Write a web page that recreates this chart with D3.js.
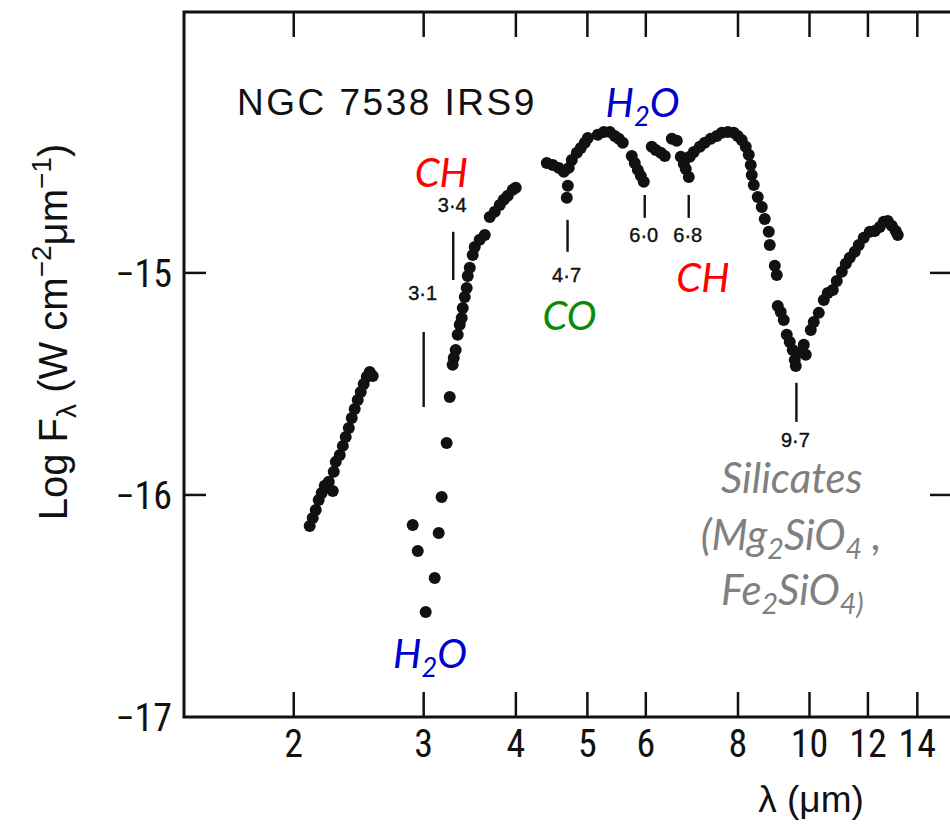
<!DOCTYPE html>
<html>
<head>
<meta charset="utf-8">
<script src="https://cdn.jsdelivr.net/npm/d3@7"></script>
<style>
  body { margin: 0; background: #fff; }
</style>
</head>
<body>
<svg id="chart" width="950" height="827"></svg>
<script>
// NGC 7538 IRS9 infrared spectrum: log F_lambda against wavelength (log axis),
// with the ice / dust absorption features marked.

// wavelength (µm) and log flux (W cm^-2 µm^-1)
const lambdaUm = [
  // 2.1 - 2.6 µm
  2.102, 2.122, 2.142, 2.162, 2.182, 2.203, 2.231, 2.259, 2.266, 2.280, 2.309,
  2.331, 2.352, 2.375, 2.397, 2.419, 2.442, 2.465, 2.488, 2.512, 2.535, 2.559,
  // 2.9 - 4 µm
  2.899, 2.945, 3.019, 3.105, 3.144, 3.173, 3.223, 3.254, 3.284, 3.295, 3.315,
  3.336, 3.357, 3.378, 3.389, 3.410, 3.431, 3.442, 3.464, 3.496, 3.518, 3.573,
  3.630, 3.687, 3.745, 3.804, 3.851, 3.900, 3.961, 3.998,
  // 4.4 - 13 µm
  4.405, 4.489, 4.573, 4.645, 4.718, 4.704, 4.689, 4.763, 4.838, 4.898, 4.960,
  5.007, 5.165, 5.263, 5.363, 5.447, 5.515, 5.584, 5.743, 5.797, 5.852, 5.907,
  5.962, 6.113, 6.190, 6.287, 6.366, 6.507, 6.609, 6.692, 6.755, 6.797, 6.861,
  6.883, 6.969, 7.101, 7.212, 7.349, 7.487, 7.605, 7.749, 7.895, 7.994, 8.095,
  8.196, 8.273, 8.325, 8.351, 8.404, 8.509, 8.616, 8.697, 8.806, 8.834, 8.973,
  9.029, 9.057, 9.142, 9.228, 9.315, 9.403, 9.491, 9.551, 9.581, 9.731, 9.823,
  9.884, 10.040, 10.134, 10.294, 10.456, 10.587, 10.753, 10.888, 11.060, 11.199,
  11.339, 11.517, 11.662, 11.845, 12.069, 12.259, 12.452, 12.608, 12.767, 12.927,
  13.089, 13.171
];

const logFlux = [
  -16.140, -16.104, -16.068, -16.023, -15.991, -15.959, -15.941, -15.982, -15.896,
  -15.851, -15.820, -15.779, -15.739, -15.698, -15.653, -15.613, -15.572, -15.536,
  -15.500, -15.468, -15.446, -15.464,
  -16.135, -16.252, -16.527, -16.374, -16.171, -16.009, -15.766, -15.559, -15.414,
  -15.383, -15.347, -15.279, -15.234, -15.203, -15.158, -15.108, -15.068, -15.014,
  -14.977, -14.919, -14.883, -14.851, -14.829, -14.748, -14.725, -14.694, -14.671,
  -14.653, -14.626, -14.617,
  -14.505, -14.514, -14.527, -14.545, -14.527, -14.608, -14.662, -14.491, -14.459,
  -14.437, -14.414, -14.392, -14.378, -14.365, -14.365, -14.383, -14.396, -14.414,
  -14.473, -14.505, -14.536, -14.563, -14.590, -14.432, -14.446, -14.459, -14.473,
  -14.396, -14.405, -14.477, -14.509, -14.532, -14.568, -14.477, -14.455, -14.432,
  -14.414, -14.396, -14.383, -14.369, -14.365, -14.369, -14.383, -14.401, -14.432,
  -14.468, -14.514, -14.559, -14.604, -14.658, -14.703, -14.757, -14.815, -14.874,
  -14.968, -15.009, -15.149, -15.176, -15.212, -15.279, -15.311, -15.347, -15.392,
  -15.419, -15.356, -15.324, -15.369, -15.257, -15.221, -15.180, -15.122, -15.090,
  -15.077, -15.036, -14.995, -14.959, -14.932, -14.905, -14.874, -14.842, -14.815,
  -14.811, -14.793, -14.770, -14.766, -14.788, -14.811, -14.829
];

const xTicks = [2, 3, 4, 5, 6, 8, 10, 12, 14];
const yTicks = [-17, -16, -15];
const xExtent = [1.42, 15.6];
const yExtent = [-17, -13.825];

// absorption features: wavelength drawn, label printed, marker top/bottom, label baseline
const featureLambda = [3.0, 3.29, 4.7, 5.98, 6.86, 9.6];
const featureText = ["3·1", "3·4", "4·7", "6·0", "6·8", "9·7"];
const featureTop = [-15.266, -14.815, -14.761, -14.649, -14.649, -15.495];
const featureBottom = [-15.604, -15.032, -14.905, -14.752, -14.752, -15.671];
const featureLabelF = [-15.122, -14.725, -15.041, -14.860, -14.860, -15.784];

// coloured species labels: [text, subscript?] pieces
const speciesParts = [
  [["CH", 0]],
  [["H", 0], ["2", 1], ["O", 0]],
  [["CO", 0]],
  [["CH", 0]],
  [["H", 0], ["2", 1], ["O", 0]],
  [["Silicates", 0]],
  [["(Mg", 0], ["2", 1], ["SiO", 0], ["4", 1], [" ,", 0]],
  [["Fe", 0], ["2", 1], ["SiO", 0], ["4)", 1]]
];
const speciesLambda = [3.17, 5.94, 4.73, 7.17, 3.06, 9.46, 9.44, 9.48];
const speciesF = [-14.613, -14.297, -15.257, -15.086, -16.779, -15.991, -16.248, -16.495];
const speciesColor = ["#ff0000", "#0000cc", "#0a8a0a", "#ff0000", "#0000cc",
                      "#808080", "#808080", "#808080"];
const speciesSize = [40, 40, 40, 40, 40, 42, 42, 42];

const svg = d3.select("#chart");
const margin = { top: 12, left: 184, bottom: 717, right: 952 };

const x = d3.scaleLog().domain(xExtent).range([margin.left, margin.right]);
const y = d3.scaleLinear().domain(yExtent).range([margin.bottom, margin.top]);

const axisFont = "'Liberation Sans Narrow', 'Roboto Condensed', 'Liberation Sans', Arial, sans-serif";
const labelFont = "'Liberation Sans', Arial, sans-serif";
const calloutFont = "Lato, 'Open Sans', sans-serif";

svg.append("rect").attr("width", 950).attr("height", 827).attr("fill", "#fff");

// frame
svg.append("rect")
  .attr("x", margin.left)
  .attr("y", margin.top)
  .attr("width", margin.right - margin.left)
  .attr("height", margin.bottom - margin.top)
  .attr("fill", "none")
  .attr("stroke", "#111")
  .attr("stroke-width", 3);

// inward ticks, bottom and top
const tickG = svg.append("g").attr("stroke", "#111").attr("stroke-width", 2.5);
xTicks.forEach(t => {
  tickG.append("line")
    .attr("x1", x(t)).attr("x2", x(t))
    .attr("y1", margin.bottom).attr("y2", margin.bottom - 25);
  tickG.append("line")
    .attr("x1", x(t)).attr("x2", x(t))
    .attr("y1", margin.top).attr("y2", margin.top + 25);
});
yTicks.filter(t => t > yExtent[0]).forEach(t => {
  tickG.append("line")
    .attr("x1", margin.left).attr("x2", margin.left + 22)
    .attr("y1", y(t)).attr("y2", y(t));
  tickG.append("line")
    .attr("x1", margin.right).attr("x2", margin.right - 22)
    .attr("y1", y(t)).attr("y2", y(t));
});

svg.append("g")
  .selectAll("text")
  .data(xTicks)
  .join("text")
  .attr("x", d => x(d))
  .attr("y", 757)
  .attr("text-anchor", "middle")
  .attr("font-family", axisFont)
  .attr("font-size", 38)
  .attr("fill", "#111")
  .text(d => d);

svg.append("g")
  .selectAll("text")
  .data(yTicks)
  .join("text")
  .attr("x", 172)
  .attr("y", d => y(d))
  .attr("dy", "0.36em")
  .attr("text-anchor", "end")
  .attr("font-family", axisFont)
  .attr("font-size", 38)
  .attr("fill", "#111")
  .text(d => "\u2212" + Math.abs(d));

// axis titles
svg.append("text")
  .attr("x", 811)
  .attr("y", 812)
  .attr("text-anchor", "middle")
  .attr("font-family", labelFont)
  .attr("font-size", 37)
  .attr("fill", "#111")
  .text("λ (μm)");

const yLab = svg.append("text")
  .attr("transform", "translate(67,332) rotate(-90)")
  .attr("text-anchor", "middle")
  .attr("font-family", labelFont)
  .attr("font-size", 40)
  .attr("fill", "#111");
yLab.append("tspan").text("Log F");
yLab.append("tspan").attr("dy", 9).attr("font-size", 28).text("λ");
yLab.append("tspan").attr("dy", -9).text(" (W cm");
yLab.append("tspan").attr("dy", -16).attr("font-size", 28).text("\u22122");
yLab.append("tspan").attr("dy", 16).text("μm");
yLab.append("tspan").attr("dy", -16).attr("font-size", 28).text("\u22121");
yLab.append("tspan").attr("dy", 16).text(")");

svg.append("text")
  .attr("x", 237)
  .attr("y", 115)
  .attr("font-family", labelFont)
  .attr("font-size", 37)
  .attr("letter-spacing", 2.5)
  .attr("fill", "#111")
  .text("NGC 7538 IRS9");

// feature markers
const feat = svg.append("g");
featureLambda.forEach((l, i) => {
  feat.append("line")
    .attr("x1", x(l)).attr("x2", x(l))
    .attr("y1", y(featureTop[i])).attr("y2", y(featureBottom[i]))
    .attr("stroke", "#111")
    .attr("stroke-width", 2.4);
  feat.append("text")
    .attr("x", x(l) - 1)
    .attr("y", y(featureLabelF[i]))
    .attr("text-anchor", "middle")
    .attr("font-family", labelFont)
    .attr("font-size", 20)
    .attr("stroke", "#111")
    .attr("stroke-width", 0.4)
    .attr("fill", "#111")
    .text(featureText[i]);
});

// data points
svg.append("g")
  .selectAll("circle")
  .data(lambdaUm.map((l, i) => [l, logFlux[i]]))
  .join("circle")
  .attr("cx", d => x(d[0]))
  .attr("cy", d => y(d[1]))
  .attr("r", 6)
  .attr("fill", "#111");

// coloured species labels
speciesParts.forEach((parts, i) => {
  const size = speciesSize[i];
  const t = svg.append("text")
    .attr("x", x(speciesLambda[i]))
    .attr("y", y(speciesF[i]))
    .attr("text-anchor", "middle")
    .attr("font-family", calloutFont)
    .attr("font-style", "italic")
    .attr("font-size", size)
    .attr("fill", speciesColor[i]);
  let shifted = false;
  parts.forEach(([s, sub]) => {
    const span = t.append("tspan").text(s);
    if (sub && !shifted) { span.attr("dy", 9).attr("font-size", size * 0.68); shifted = true; }
    else if (sub) { span.attr("font-size", size * 0.68); }
    else if (shifted) { span.attr("dy", -9); shifted = false; }
  });
});
</script>
</body>
</html>
